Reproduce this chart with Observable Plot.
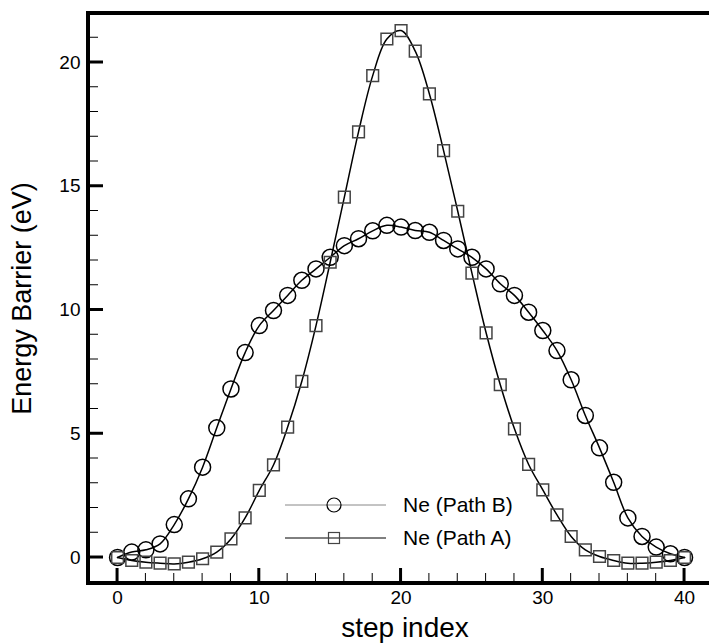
<!DOCTYPE html>
<html>
<head>
<meta charset="utf-8">
<script src="https://cdn.jsdelivr.net/npm/d3@7"></script>
<script src="https://cdn.jsdelivr.net/npm/@observablehq/plot@0.6"></script>
<style>
  html, body { margin: 0; padding: 0; background: #fff; }
  #wrap { width: 709px; height: 643px; overflow: hidden; }
</style>
</head>
<body>
<div id="wrap"></div>
<script>
// ---- data ----
const steps = [0,1,2,3,4,5,6,7,8,9,10,11,12,13,14,15,16,17,18,19,20,21,22,23,24,25,26,27,28,29,30,31,32,33,34,35,36,37,38,39,40];
const pathA = [0,-0.12,-0.19,-0.23,-0.26,-0.19,-0.05,0.22,0.75,1.6,2.71,3.74,5.27,7.12,9.37,11.93,14.56,17.2,19.47,20.95,21.29,20.46,18.73,16.44,13.99,11.49,9.08,6.98,5.2,3.76,2.73,1.72,0.85,0.31,0.04,-0.12,-0.23,-0.23,-0.19,-0.12,0];
const pathB = [0,0.22,0.31,0.55,1.33,2.37,3.65,5.24,6.81,8.28,9.37,9.98,10.59,11.2,11.66,12.13,12.6,12.88,13.2,13.42,13.35,13.21,13.14,12.81,12.47,12.13,11.66,11.06,10.59,9.91,9.17,8.36,7.18,5.74,4.43,3.04,1.6,0.85,0.42,0.15,0];
const seriesNames = ["Ne (Path B)", "Ne (Path A)"];
const xMajor = [0,10,20,30,40];
const xMinor = [2,4,6,8,12,14,16,18,22,24,26,28,32,34,36,38];
const yMajor = [0,5,10,15,20];
const yMinor = [1,2,3,4,6,7,8,9,11,12,13,14,16,17,18,19,21];
const xTitle = "step index";
const yTitle = "Energy Barrier (eV)";

// ---- layout ----
const W = 709, H = 643;
const mL = 88, mR = 0, mT = 13, mB = 60;
const xDom = [-2.05, 41.76];
const yDom = [-1.05, 21.98];
const majLen = 15, minLen = 10;
const FONT = "Liberation Sans, Arial, sans-serif";

const dataA = steps.map((s, i) => ({step: s, e: pathA[i]}));
const dataB = steps.map((s, i) => ({step: s, e: pathB[i]}));

const chart = Plot.plot({
  width: W, height: H,
  marginLeft: mL, marginRight: mR, marginTop: mT, marginBottom: mB,
  style: {fontFamily: FONT},
  x: {domain: xDom, label: null},
  y: {domain: yDom, label: null},
  marks: [
    Plot.line(dataA, {x: "step", y: "e", curve: "catmull-rom", stroke: "#000"}),
    Plot.line(dataB, {x: "step", y: "e", curve: "catmull-rom", stroke: "#000"}),
    Plot.dot(dataB, {x: "step", y: "e", symbol: "circle", r: 8, stroke: "#000", fill: "none"}),
    Plot.dot(dataA, {x: "step", y: "e", symbol: "square", r: 6.6, stroke: "#444", fill: "none"}),
    Plot.axisX({ticks: xMajor, tickSize: 0, tickPadding: 7, fontSize: 19, label: null}),
    Plot.axisY({ticks: yMajor, tickSize: 0, tickPadding: 8, fontSize: 19, label: null}),
    Plot.text([xTitle], {text: d => d, frameAnchor: "bottom", lineAnchor: "middle", textAnchor: "middle", dy: 45, dx: 6, fontSize: 28}),
    Plot.text([yTitle], {text: d => d, frameAnchor: "left", lineAnchor: "middle", textAnchor: "middle", dx: -66, rotate: -90, fontSize: 27})
  ]
});

document.getElementById("wrap").appendChild(chart);

// ---- frame and inward ticks, placed with Plot's own scales ----
const sx = chart.scale("x"), sy = chart.scale("y");
const x0 = sx.apply(xDom[0]);
const yB = sy.apply(yDom[0]), yT = sy.apply(yDom[1]);
const g = d3.select(chart).append("g").attr("class", "axes-frame").attr("stroke", "#000").attr("fill", "none");
for (const v of xMajor) g.append("line").attr("x1", sx.apply(v)).attr("x2", sx.apply(v)).attr("y1", yB).attr("y2", yB - majLen).attr("stroke-width", 3);
for (const v of xMinor) g.append("line").attr("x1", sx.apply(v)).attr("x2", sx.apply(v)).attr("y1", yB).attr("y2", yB - minLen).attr("stroke-width", 1);
for (const v of yMajor) g.append("line").attr("y1", sy.apply(v)).attr("y2", sy.apply(v)).attr("x1", x0).attr("x2", x0 + majLen).attr("stroke-width", 3);
for (const v of yMinor) g.append("line").attr("y1", sy.apply(v)).attr("y2", sy.apply(v)).attr("x1", x0).attr("x2", x0 + minLen).attr("stroke-width", 1);
g.append("line").attr("x1", x0).attr("x2", x0).attr("y1", yT - 2).attr("y2", yB + 2).attr("stroke-width", 4);
g.append("line").attr("x1", x0).attr("x2", W).attr("y1", yT).attr("y2", yT).attr("stroke-width", 4);
g.append("line").attr("x1", x0).attr("x2", W).attr("y1", yB).attr("y2", yB).attr("stroke-width", 4);

// ---- legend (inside plot area) ----
const leg = d3.select(chart).append("g").attr("class", "legend").attr("text-anchor", "start");
const rows = [
  {name: seriesNames[0], y: 505, line: "#888", sym: "circle"},
  {name: seriesNames[1], y: 538, line: "#000", sym: "square"}
];
for (const r of rows) {
  leg.append("line").attr("x1", 285).attr("x2", 386).attr("y1", r.y).attr("y2", r.y)
    .attr("stroke", r.line).attr("stroke-width", 1);
  if (r.sym === "circle") {
    leg.append("circle").attr("cx", 334).attr("cy", r.y).attr("r", 7)
      .attr("fill", "none").attr("stroke", "#000").attr("stroke-width", 1.2);
  } else {
    leg.append("rect").attr("x", 334 - 5.5).attr("y", r.y - 5.5).attr("width", 11).attr("height", 11)
      .attr("fill", "none").attr("stroke", "#444").attr("stroke-width", 1.2);
  }
  leg.append("text").attr("x", 403).attr("y", r.y).attr("dy", "0.35em")
    .attr("font-family", FONT).attr("font-size", 21).attr("text-anchor", "start")
    .attr("fill", "#000").text(r.name);
}
</script>
</body>
</html>
